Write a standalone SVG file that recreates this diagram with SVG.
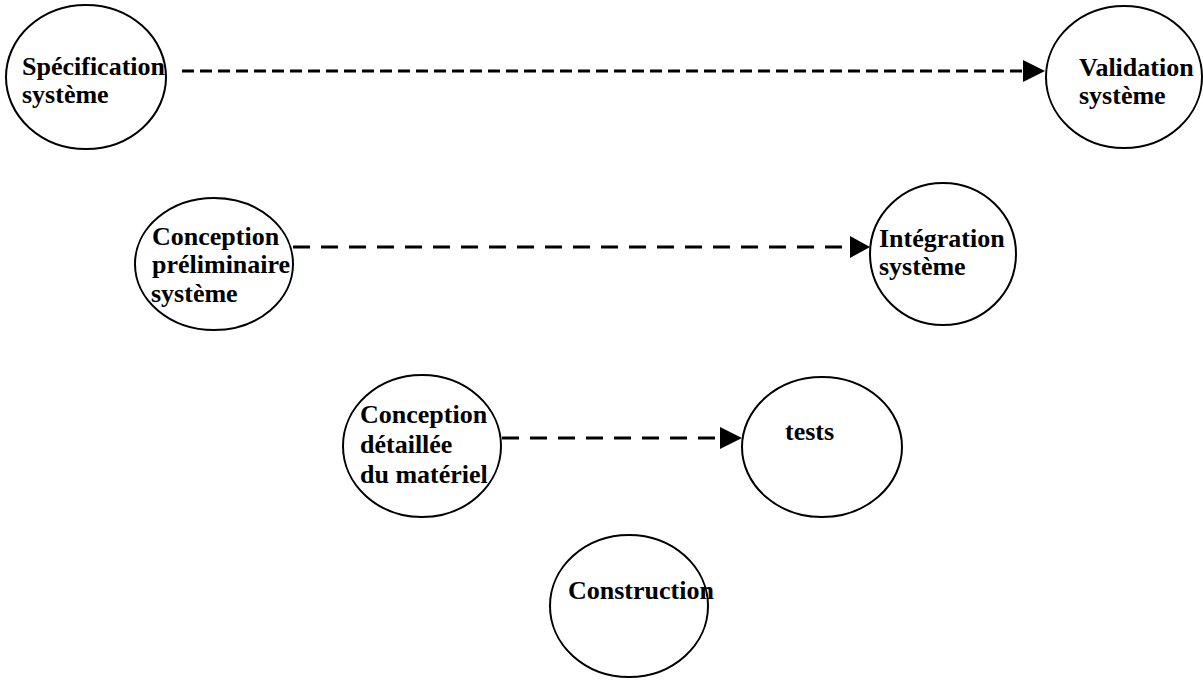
<svg xmlns="http://www.w3.org/2000/svg" width="1203" height="684" viewBox="0 0 1203 684">
<style>
.node ellipse{fill:none;stroke:#000;stroke-width:2}
text{font-family:"Liberation Serif","Times New Roman",serif;font-weight:bold;font-size:26px;fill:#000}
.c line{stroke:#000;stroke-width:3}
.c polygon{fill:#000}
.long{stroke-dasharray:17 11}
.short{stroke-dasharray:12 6}
</style>
<rect width="1203" height="684" fill="#fff"/>
<g class="c" id="connectors">
<line class="short" x1="182" y1="71" x2="1024" y2="71"/>
<polygon points="1023,60 1045,71 1023,82"/>
<line class="long" x1="293" y1="247" x2="852" y2="247"/>
<polygon points="850,236 870,247 850,258"/>
<line class="long" x1="502" y1="438" x2="721" y2="438"/>
<polygon points="720,427 742,438 720,449"/>
</g>
<g class="node" id="specification">
<ellipse cx="86" cy="77" rx="80" ry="72"/>
<text x="22" y="75">Spécification</text>
<text x="22" y="103">système</text>
</g>
<g class="node" id="validation">
<ellipse cx="1124" cy="77" rx="78" ry="71"/>
<text x="1079" y="76">Validation</text>
<text x="1079" y="104">système</text>
</g>
<g class="node" id="conception-preliminaire">
<ellipse cx="214" cy="264" rx="79" ry="66"/>
<text x="152" y="245">Conception</text>
<text x="152" y="273">préliminaire</text>
<text x="151" y="302">système</text>
</g>
<g class="node" id="integration">
<ellipse cx="943" cy="254" rx="73" ry="71"/>
<text x="879" y="247">Intégration</text>
<text x="879" y="275">système</text>
</g>
<g class="node" id="conception-detaillee">
<ellipse cx="422" cy="446" rx="79" ry="71"/>
<text x="360" y="423">Conception</text>
<text x="360" y="453">détaillée</text>
<text x="360" y="483">du matériel</text>
</g>
<g class="node" id="tests">
<ellipse cx="822" cy="447" rx="80" ry="70"/>
<text x="785" y="440">tests</text>
</g>
<g class="node" id="construction">
<ellipse cx="629" cy="606" rx="79" ry="71"/>
<text x="568" y="599">Construction</text>
</g>
</svg>
